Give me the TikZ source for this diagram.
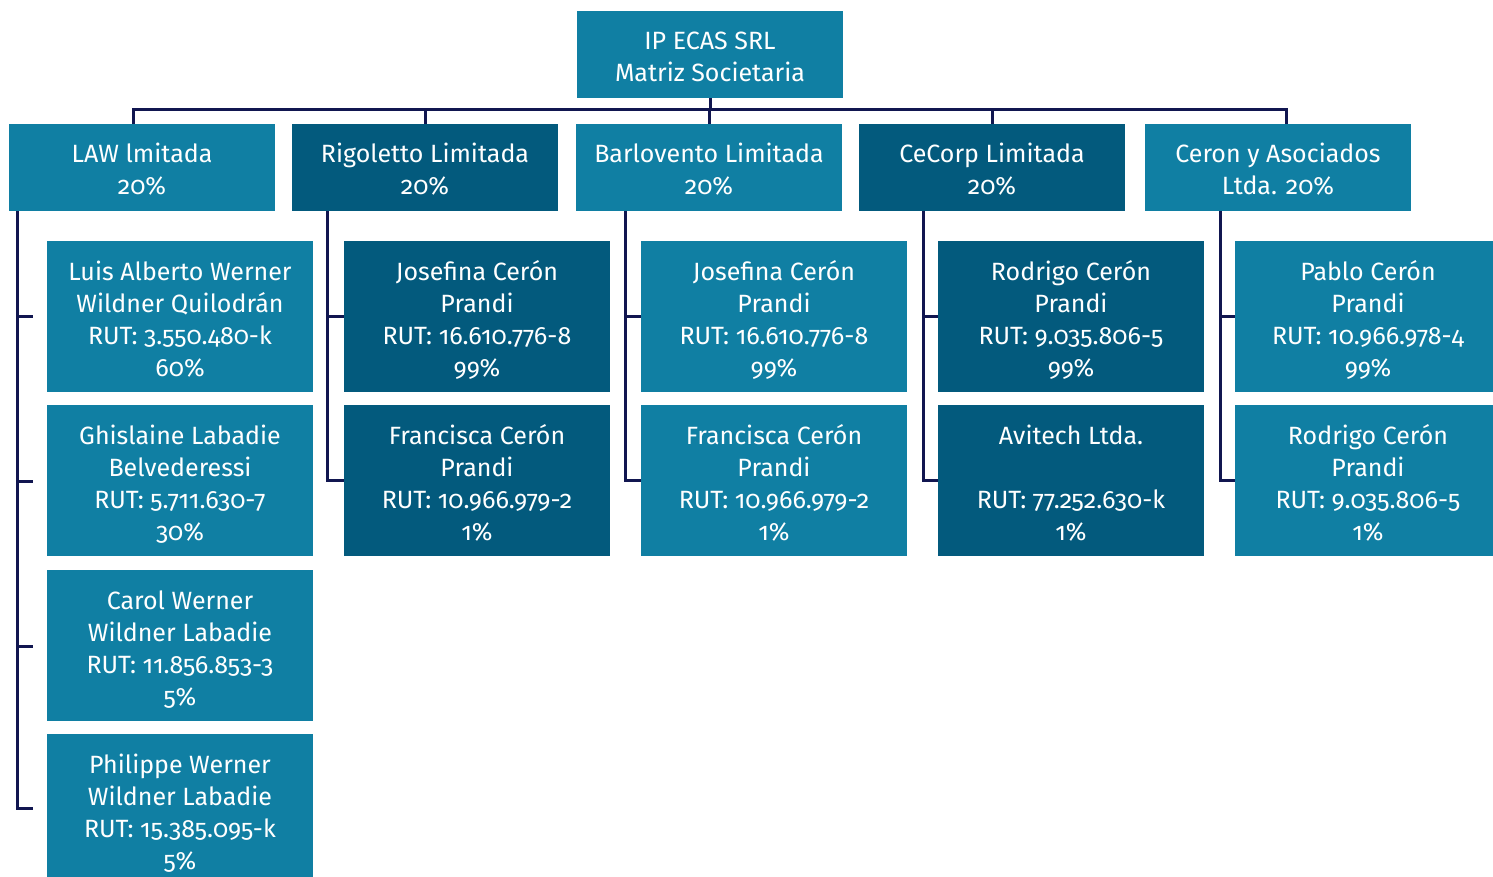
\documentclass[tikz,border=0pt]{standalone}
\usepackage{fontspec}
\setmainfont{Fira Sans}[Numbers=OldStyle]
\definecolor{lightbox}{HTML}{107FA3}
\definecolor{darkbox}{HTML}{035A7D}
\definecolor{linecol}{HTML}{111650}
\begin{document}
\begin{tikzpicture}[x=1pt,y=-1pt,
 box/.style={fill=#1, text=white, minimum width=266pt, inner sep=0pt, align=center, font=\fontsize{25}{32}\selectfont},
 lone/.style={box=#1, minimum height=87pt, text height=63pt, text depth=8pt},
 ltwo/.style={box=#1, minimum height=151pt, text height=127pt, text depth=8pt},
 conn/.style={draw=linecol, line width=3pt, line join=miter}]
\useasboundingbox (0,0) rectangle (1493,877);
% top
\node[lone=lightbox] (top) at (710,54.5) {IP ECAS SRL\\Matriz Societaria};
% level 1
\node[lone=lightbox] (law) at (142,167.5) {LAW lmitada\\20\%};
\node[lone=darkbox] (rig) at (425,167.5) {Rigoletto Limitada\\20\%};
\node[lone=lightbox] (bar) at (709,167.5) {Barlovento Limitada\\20\%};
\node[lone=darkbox] (cec) at (992,167.5) {CeCorp Limitada\\20\%};
\node[lone=lightbox] (cer) at (1278,167.5) {Ceron y Asociados\\Ltda. 20\%};
% level 2 col 1
\node[ltwo=lightbox] (a1) at (180,316.5) {Luis Alberto Werner\\Wildner Quilodrán\\RUT: 3.550.480-k\\60\%};
\node[ltwo=lightbox] (a2) at (180,480.5) {Ghislaine Labadie\\Belvederessi\\RUT: 5.711.630-7\\30\%};
\node[ltwo=lightbox] (a3) at (180,645.5) {Carol Werner\\Wildner Labadie\\RUT: 11.856.853-3\\5\%};
\node[ltwo=lightbox] (a4) at (180,809.5) {Philippe Werner\\Wildner Labadie\\RUT: 15.385.095-k\\5\%};
% col 2
\node[ltwo=darkbox] (b1) at (477,316.5) {Josefina Cerón\\Prandi\\RUT: 16.610.776-8\\99\%};
\node[ltwo=darkbox] (b2) at (477,480.5) {Francisca Cerón\\Prandi\\RUT: 10.966.979-2\\1\%};
% col 3
\node[ltwo=lightbox] (c1) at (774,316.5) {Josefina Cerón\\Prandi\\RUT: 16.610.776-8\\99\%};
\node[ltwo=lightbox] (c2) at (774,480.5) {Francisca Cerón\\Prandi\\RUT: 10.966.979-2\\1\%};
% col 4
\node[ltwo=darkbox] (e1) at (1071,316.5) {Rodrigo Cerón\\Prandi\\RUT: 9.035.806-5\\99\%};
\node[ltwo=darkbox] (e2) at (1071,480.5) {Avitech Ltda.\\\mbox{}\\RUT: 77.252.630-k\\1\%};
% col 5
\node[ltwo=lightbox] (f1) at (1368,316.5) {Pablo Cerón\\Prandi\\RUT: 10.966.978-4\\99\%};
\node[ltwo=lightbox] (f2) at (1368,480.5) {Rodrigo Cerón\\Prandi\\RUT: 9.035.806-5\\1\%};
% bus
\coordinate (busL) at (133,110);
\coordinate (busR) at (1286,110);
\coordinate (d1) at (133,124);
\coordinate (d5) at (1286,124);
\draw[conn] (top.south) -- (top.south |- busL);
\draw[conn] (d1) -- (busL) -- (busR) -- (d5);
\draw[conn] (rig.north) -- (rig.north |- busL);
\draw[conn] (bar.north) -- (bar.north |- busL);
\draw[conn] (cec.north) -- (cec.north |- busL);
% column 1
\coordinate (v1) at (17,211);
\coordinate (t1) at (33,316);
\coordinate (t2) at (33,481);
\coordinate (t3) at (33,646);
\coordinate (t4) at (33,808);
\draw[conn] (v1) |- (t4);
\draw[conn] (v1 |- t1) -- (t1);
\draw[conn] (v1 |- t2) -- (t2);
\draw[conn] (v1 |- t3) -- (t3);
% columns 2-5
\coordinate (v2) at (327,211);
\coordinate (v3) at (625,211);
\coordinate (v4) at (923,211);
\coordinate (v5) at (1220,211);
\draw[conn] (v2) |- (b2.west);
\draw[conn] (v2 |- b1.west) -- (b1.west);
\draw[conn] (v3) |- (c2.west);
\draw[conn] (v3 |- c1.west) -- (c1.west);
\draw[conn] (v4) |- (e2.west);
\draw[conn] (v4 |- e1.west) -- (e1.west);
\draw[conn] (v5) |- (f2.west);
\draw[conn] (v5 |- f1.west) -- (f1.west);
\end{tikzpicture}
\end{document}
